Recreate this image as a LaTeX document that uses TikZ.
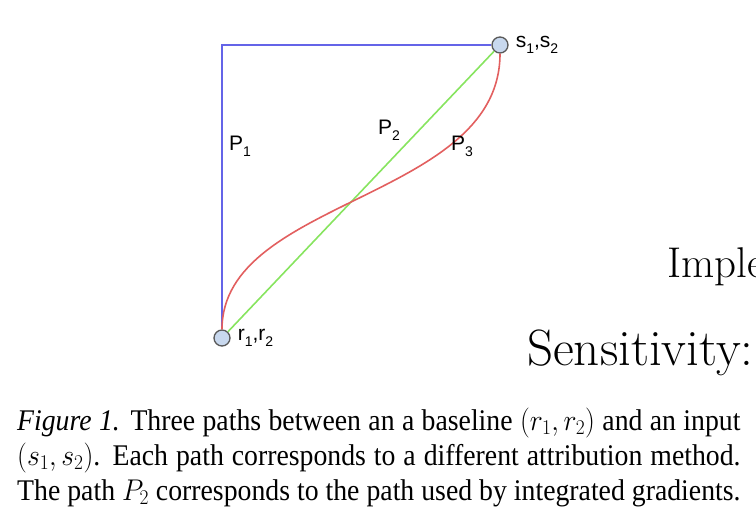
\RequirePackage{fix-cm}
\documentclass[tikz,border=0pt]{standalone}
\usepackage{fontspec}
\setsansfont{Liberation Sans}
\newfontfamily\capfont{Liberation Serif}
\usepackage{tikz}
\usetikzlibrary{positioning}
\definecolor{pathblue}{RGB}{100,100,232}
\definecolor{pathgreen}{RGB}{135,228,95}
\definecolor{pathred}{RGB}{226,95,95}
\definecolor{ptfill}{RGB}{200,216,238}
\newcommand{\psub}[1]{\raisebox{-0.55ex}{\fontsize{14}{14}\selectfont #1}}
\tikzset{
  ptnode/.style={circle,draw=black!65,line width=1.3pt,fill=ptfill,minimum size=16pt,inner sep=0pt},
  plabel/.style={font=\sffamily\fontsize{21}{21}\selectfont,inner sep=0pt},
  pline/.style={line width=1.6pt},
  bigtext/.style={inner sep=0pt,anchor=base west}
}
\begin{document}
\begin{tikzpicture}[x=1pt,y=-1pt]
  \clip (0,0) rectangle (756,522);
  %% end points
  \node[ptnode] (r) at (222,338) {};
  \node[ptnode] (s) at (500,45) {};
  %% the three paths
  \draw[pline,pathblue] (r) |- (s);
  \draw[pline,pathgreen] (r) -- (s);
  \draw[pline,pathred] (r) .. controls +(0,-140) and +(0,155) .. (s);
  %% labels
  \node[plabel,right=7pt of s] (ls) {s\psub{1},s\psub{2}};
  \node[plabel,right=7pt of r] (lr) {r\psub{1},r\psub{2}};
  \node[plabel] (pa) at (240,146) {P\psub{1}};
  \node[plabel] (pb) at (389,130) {P\psub{2}};
  \node[plabel] (pc) at (462,146) {P\psub{3}};
  %% text of the next column
  \node[bigtext,font=\fontsize{43}{43}\selectfont] (imp) at (667,277) {Imple};
  \node[bigtext,font=\fontsize{51}{51}\selectfont] (sens) at (527,365) {Sensitivity:};
  %% caption
  \node[anchor=base west,inner sep=0pt] (cap) at (17,430)
    {\scalebox{0.925}[1]{\parbox[t]{782pt}{\capfont\fontsize{30}{35}\selectfont
     \parfillskip=0pt\parindent=0pt
     \textit{Figure 1.} Three paths between an a baseline $(r_1, r_2)$ and an input\linebreak
     $(s_1, s_2)$. Each path corresponds to a different attribution method.\linebreak
     The path $P_2$ corresponds to the path used by integrated gradients.}}};
\end{tikzpicture}
\end{document}
